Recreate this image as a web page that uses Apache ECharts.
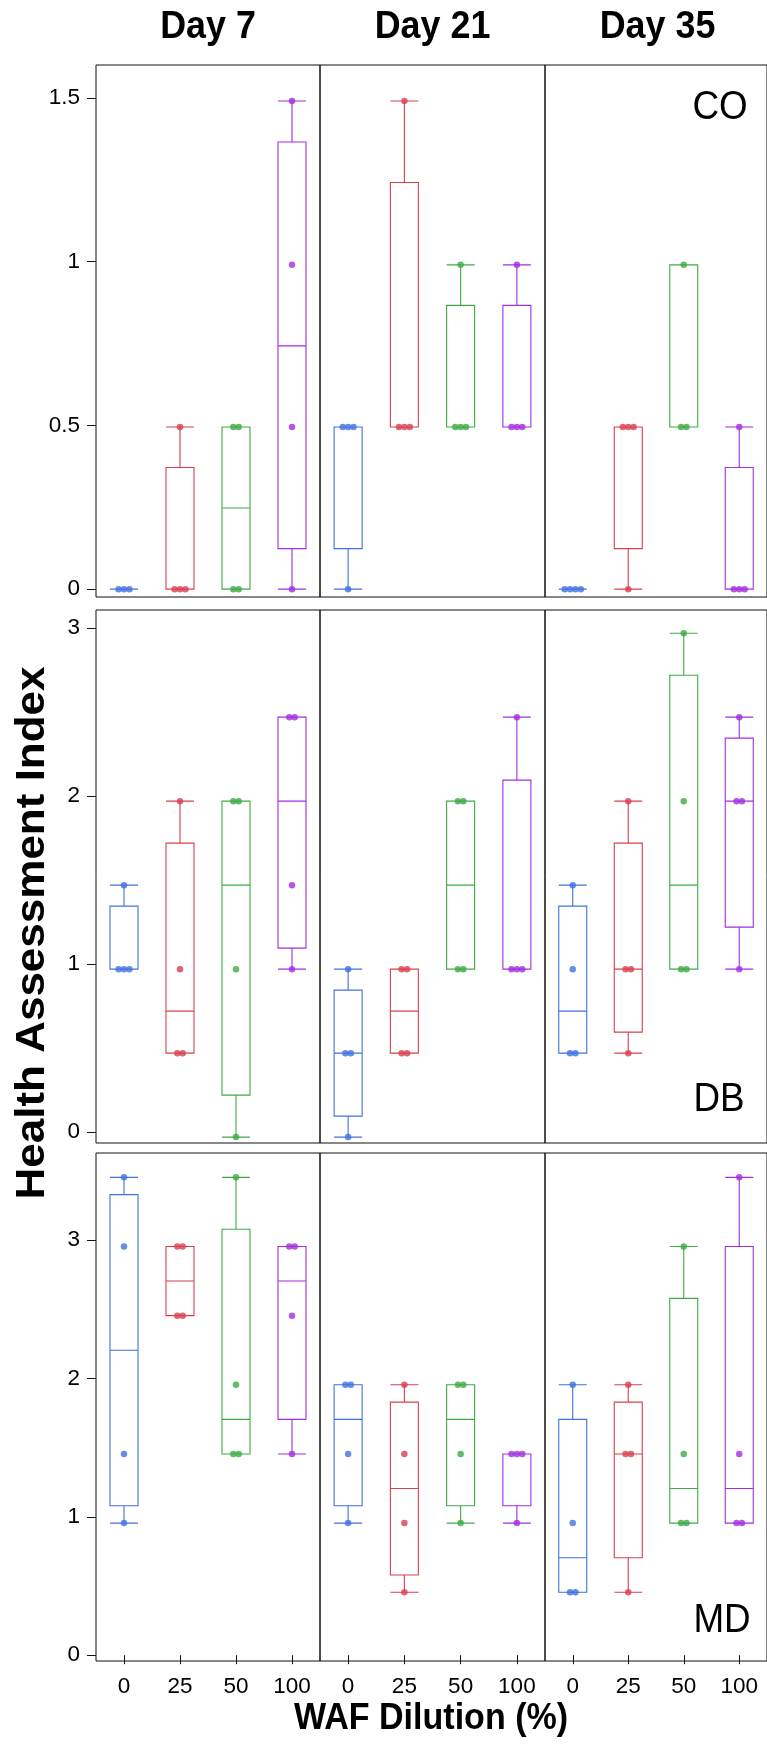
<!DOCTYPE html>
<html>
<head>
<meta charset="utf-8">
<script src="https://cdn.jsdelivr.net/npm/echarts@6/dist/echarts.min.js"></script>
<style>
  html, body { margin: 0; padding: 0; background: #ffffff; }
  #chart { width: 767px; height: 1745px; }
</style>
</head>
<body>
<div id="chart"></div>
<script>
// ---- data -------------------------------------------------------------
const days = ['Day 7', 'Day 21', 'Day 35'];
const dilutions = ['0', '25', '50', '100'];
const indexNames = ['CO', 'DB', 'MD'];

// Health assessment index observations, one list per WAF dilution (0, 25, 50, 100 %)
const coDay7  = [[0, 0, 0], [0, 0, 0, 0.495], [0, 0, 0.495, 0.495], [0, 0.495, 0.99, 1.49]];
const coDay21 = [[0, 0.495, 0.495, 0.495], [0.495, 0.495, 0.495, 1.49], [0.495, 0.495, 0.495, 0.99], [0.495, 0.495, 0.495, 0.99]];
const coDay35 = [[0, 0, 0, 0], [0, 0.495, 0.495, 0.495], [0.495, 0.495, 0.99], [0, 0, 0, 0.495]];

const dbDay7  = [[0.97, 0.97, 0.97, 1.47], [0.47, 0.47, 0.97, 1.97], [-0.03, 0.97, 1.97, 1.97], [0.97, 1.47, 2.47, 2.47]];
const dbDay21 = [[-0.03, 0.47, 0.47, 0.97], [0.47, 0.47, 0.97, 0.97], [0.97, 0.97, 1.97, 1.97], [0.97, 0.97, 0.97, 2.47]];
const dbDay35 = [[0.47, 0.47, 0.97, 1.47], [0.47, 0.97, 0.97, 1.97], [0.97, 0.97, 1.97, 2.97], [0.97, 1.97, 1.97, 2.47]];

const mdDay7  = [[0.955, 1.455, 2.955, 3.455], [2.455, 2.455, 2.955, 2.955], [1.455, 1.455, 1.955, 3.455], [1.455, 2.455, 2.955, 2.955]];
const mdDay21 = [[0.955, 1.455, 1.955, 1.955], [0.455, 0.955, 1.455, 1.955], [0.955, 1.455, 1.955, 1.955], [0.955, 1.455, 1.455, 1.455]];
const mdDay35 = [[0.455, 0.455, 0.955, 1.955], [0.455, 1.455, 1.455, 1.955], [0.955, 0.955, 1.455, 2.955], [0.955, 0.955, 1.455, 3.455]];

const coTicks = [0, 0.5, 1, 1.5];
const dbTicks = [0, 1, 2, 3];
const mdTicks = [0, 1, 2, 3];

const coRange = [-0.024, 1.600];
const dbRange = [-0.065, 3.108];
const mdRange = [-0.042, 3.631];

// ---- presentation ------------------------------------------------------
const dilutionColors = ['#4270E0', '#D8404F', '#3DAA45', '#A22EE0'];
const FONT = 'Liberation Sans, Arial, Helvetica, sans-serif';
const NARROW = 0.92;   // slightly condensed lettering for headings

const panelData = [
  [coDay7, coDay21, coDay35],
  [dbDay7, dbDay21, dbDay35],
  [mdDay7, mdDay21, mdDay35]
];
const rowTicks = [coTicks, dbTicks, mdTicks];
const rowRanges = [coRange, dbRange, mdRange];

const colLeft = [96, 320, 545];
const colWidth = [224, 225, 225];
const rowTop = [65, 610, 1153];
const rowHeight = [532, 533, 508];
const dotGap = 5.4;

// SPSS-style (type 6) quantile
function quantile6(sorted, p) {
  const n = sorted.length;
  const h = (n + 1) * p;
  if (h <= 1) return sorted[0];
  if (h >= n) return sorted[n - 1];
  const lo = Math.floor(h);
  return sorted[lo - 1] + (h - lo) * (sorted[lo] - sorted[lo - 1]);
}

function boxStats(values) {
  const s = values.slice().sort((a, b) => a - b);
  return [s[0], quantile6(s, 0.25), quantile6(s, 0.5), quantile6(s, 0.75), s[s.length - 1]];
}

const grids = [], xAxes = [], yAxes = [], series = [];

for (let r = 0; r < 3; r++) {
  for (let c = 0; c < 3; c++) {
    const gi = r * 3 + c;
    const isLeft = c === 0;
    const isBottom = r === 2;
    grids.push({
      left: colLeft[c], top: rowTop[r], width: colWidth[c], height: rowHeight[r],
      show: true, borderColor: '#111', borderWidth: 1, backgroundColor: 'transparent'
    });
    xAxes.push({
      type: 'category', gridIndex: gi, data: dilutions, boundaryGap: true,
      axisLine: { show: false },
      axisTick: { show: isBottom, alignWithLabel: true, length: 9, lineStyle: { color: '#111' } },
      axisLabel: { show: isBottom, fontSize: 22.5, color: '#000', fontFamily: FONT, margin: 14 },
      splitLine: { show: false }
    });
    yAxes.push({
      type: 'value', gridIndex: gi, min: rowRanges[r][0], max: rowRanges[r][1],
      axisLine: { show: false },
      axisTick: { show: isLeft, length: 9, customValues: rowTicks[r], lineStyle: { color: '#111' } },
      axisLabel: { show: isLeft, fontSize: 22.5, color: '#000', fontFamily: FONT, margin: 16,
                   customValues: rowTicks[r] },
      splitLine: { show: false }
    });

    const groups = panelData[r][c];
    series.push({
      type: 'boxplot', xAxisIndex: gi, yAxisIndex: gi,
      boxWidth: [28, 28],
      silent: true,
      data: groups.map((g, k) => ({
        value: boxStats(g),
        itemStyle: { color: 'rgba(255,255,255,0)', borderColor: dilutionColors[k], borderWidth: 1.1 }
      }))
    });

    const pts = [];
    groups.forEach((g, k) => {
      const counts = {};
      g.forEach(v => { counts[v] = (counts[v] || 0) + 1; });
      const seen = {};
      g.forEach(v => {
        const n = counts[v];
        const j = seen[v] || 0;
        seen[v] = j + 1;
        pts.push({
          value: [k, v],
          symbolOffset: [(j - (n - 1) / 2) * dotGap, 0],
          itemStyle: { color: dilutionColors[k] }
        });
      });
    });
    series.push({
      type: 'scatter', xAxisIndex: gi, yAxisIndex: gi,
      symbol: 'circle', symbolSize: 6.5, z: 5, silent: true,
      data: pts
    });
  }
}

const graphics = [];
days.forEach((d, c) => {
  graphics.push({
    type: 'text', x: colLeft[c] + colWidth[c] / 2, y: 27, scaleX: NARROW,
    style: { text: d, font: 'bold 39px ' + FONT, fill: '#000', align: 'center', verticalAlign: 'middle' }
  });
});
const labelPos = [[720, 108], [719, 1100], [722, 1621]];
indexNames.forEach((name, r) => {
  graphics.push({
    type: 'text', x: labelPos[r][0], y: labelPos[r][1], scaleX: NARROW,
    style: { text: name, font: '40px ' + FONT, fill: '#000', align: 'center', verticalAlign: 'middle' }
  });
});
graphics.push({
  type: 'text', x: 33, y: 933, rotation: Math.PI / 2, scaleY: NARROW,
  style: { text: 'Health Assessment Index', font: 'bold 44px ' + FONT, fill: '#000', align: 'center', verticalAlign: 'middle' }
});
graphics.push({
  type: 'text', x: 431, y: 1719, scaleX: NARROW,
  style: { text: 'WAF Dilution (%)', font: 'bold 37px ' + FONT, fill: '#000', align: 'center', verticalAlign: 'middle' }
});

const chart = echarts.init(document.getElementById('chart'), null, { renderer: 'canvas' });
chart.setOption({
  backgroundColor: '#ffffff',
  animation: false,
  grid: grids,
  xAxis: xAxes,
  yAxis: yAxes,
  series: series,
  graphic: graphics
});
</script>
</body>
</html>
